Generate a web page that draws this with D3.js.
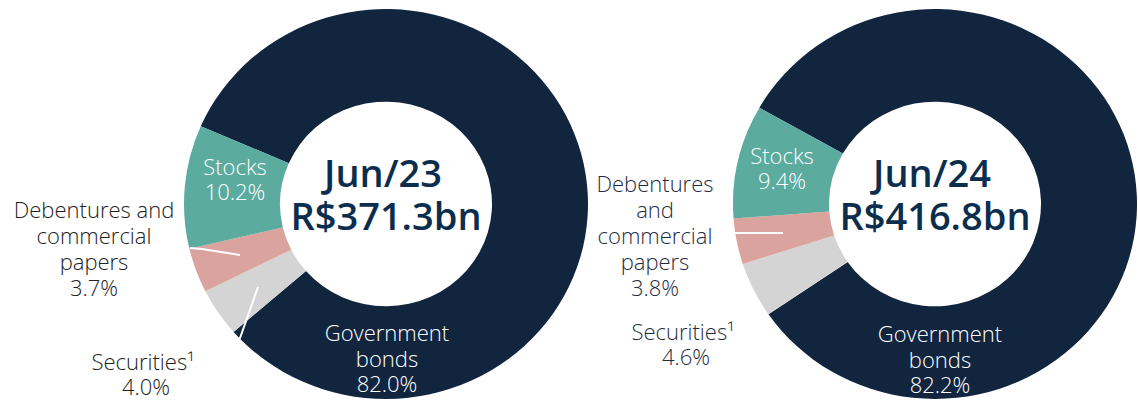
<!DOCTYPE html>
<html><head><meta charset="utf-8">
<script src="https://cdn.jsdelivr.net/npm/d3@7"></script>
<style>
html,body{margin:0;padding:0;background:#fff;}
svg{display:block;}
text{font-family:"Open Sans",Lato,sans-serif;}
</style></head>
<body>
<svg id="chart" width="1138" height="401"></svg>
<script>
// Data
const categories = ["Government bonds", "Securities¹", "Debentures and commercial papers", "Stocks"];
const periods = ["Jun/23", "Jun/24"];
const totals = ["R$371.3bn", "R$416.8bn"];
const valuesJun23 = [82.0, 4.0, 3.7, 10.2];
const valuesJun24 = [82.2, 4.6, 3.8, 9.4];
const colors = ["#11253f", "#d4d4d4", "#dba39d", "#5bab9f"];

const svg = d3.select("#chart");
const rOuter = 202, rInner = 106, yScale = 0.965;
const color = d3.scaleOrdinal().domain(categories).range(colors);
const arc = d3.arc().innerRadius(rInner).outerRadius(rOuter);
const fmt = v => v.toFixed(1) + "%";
const LBL = 22;

const panels = [
  { values: valuesJun23, cx: 386, cy: 204, start: -66.5,
    stocks: [235, 175], gov: [387, 341], deb: { x: 94, y: 218, lines: ["Debentures and", "commercial", "papers"] },
    sec: [143, 370], debColor: "#222", leaders: [[[-196, 44], [-184, 45], [-146, 51]], [[-128, 83], [-146, 134], [-150, 141]]] },
  { values: valuesJun24, cx: 935, cy: 204, start: -60.4,
    stocks: [782, 164], gov: [940, 342], deb: { x: 655, y: 192, lines: ["Debentures", "and", "commercial", "papers"] },
    sec: [683, 340], debColor: "#1e2c42", leaders: [[[-202, 29], [-152, 29]]] }
];

function lines(x, y, arr, step, fill, dx) {
  arr.forEach((t, k) => {
    svg.append("text").attr("x", x + (dx && k === arr.length - 1 ? dx : 0)).attr("y", y + k * step)
      .attr("text-anchor", "middle").attr("font-size", LBL).attr("font-weight", 300)
      .attr("fill", fill).text(t);
  });
}

panels.forEach((p, i) => {
  const a0 = p.start * Math.PI / 180;
  const pie = d3.pie().sort(null).value(d => d.v).startAngle(a0).endAngle(a0 + 2 * Math.PI);
  const data = categories.map((c, k) => ({ c, v: p.values[k] }));
  const g = svg.append("g").attr("transform", `translate(${p.cx},${p.cy}) scale(1,${yScale})`);
  g.selectAll("path").data(pie(data)).join("path")
    .attr("d", arc).attr("fill", d => color(d.data.c));
  // leader lines
  p.leaders.forEach(pts => {
    svg.append("path")
      .attr("d", d3.line()(pts.map(q => [p.cx + q[0], p.cy + q[1]])))
      .attr("fill", "none").attr("stroke", "#fff").attr("stroke-width", 2);
  });
  // center text
  svg.append("text").attr("x", p.cx - 3).attr("y", 187).attr("text-anchor", "middle")
    .attr("font-size", 38).attr("font-weight", 600).attr("fill", "#0c2e4e").text(periods[i]);
  svg.append("text").attr("x", p.cx).attr("y", 230).attr("text-anchor", "middle")
    .attr("font-size", 38).attr("font-weight", 600).attr("fill", "#0c2e4e").text(totals[i]);
  lines(p.stocks[0], p.stocks[1], ["Stocks", fmt(p.values[3])], 25, "#fff");
  lines(p.gov[0], p.gov[1], ["Government", "bonds", fmt(p.values[0])], 25.5, "#fff");
  lines(p.deb.x, p.deb.y, p.deb.lines.concat([fmt(p.values[2])]), 26, p.debColor);
  lines(p.sec[0], p.sec[1], [categories[1], fmt(p.values[1])], 25, p.debColor, 3);
});
</script>
</body></html>
